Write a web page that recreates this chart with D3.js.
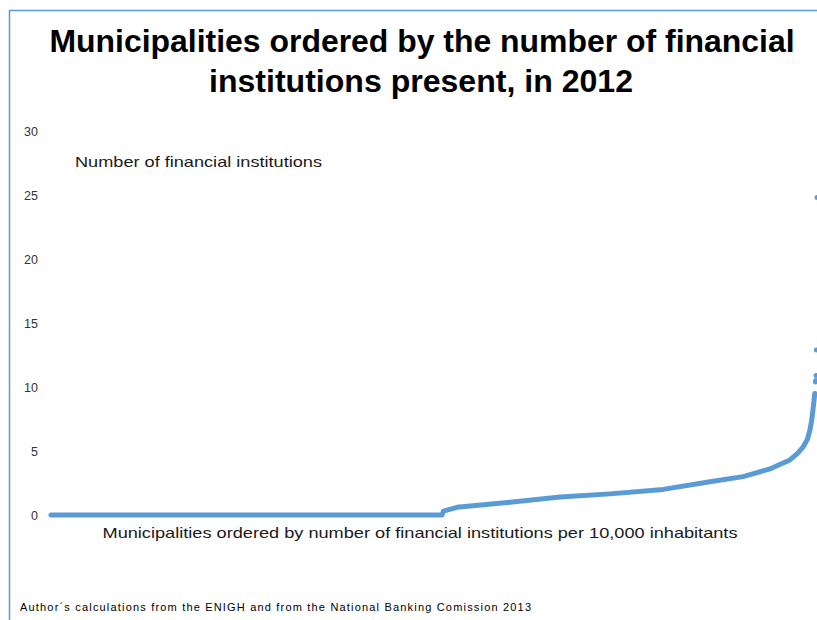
<!DOCTYPE html>
<html>
<head>
<meta charset="utf-8">
<script src="https://cdn.jsdelivr.net/npm/d3@7"></script>
<style>
  body { margin: 0; background: #fff; }
  text { font-family: "Liberation Sans", Arial, sans-serif; }
</style>
</head>
<body>
<div id="chart"></div>
<script>
// municipalities ranked by number of financial institutions
var ranks  = [1, 1254, 1258, 1302, 1472, 1632, 1792, 1962, 2112, 2218, 2304, 2368, 2392, 2410, 2424, 2432, 2438, 2442, 2448]
var values = [0, 0, 0.3, 0.6, 1.0, 1.4, 1.65, 2.0, 2.6, 3.0, 3.6, 4.3, 4.8, 5.3, 5.9, 6.6, 7.4, 8.2, 9.5]

// the few scattered points at the very top end
var topRanks  = [2450, 2451, 2452, 2453, 2455]
var topValues = [10.4, 10.5, 10.9, 12.9, 24.8]

var yTicks = [0, 5, 10, 15, 20, 25, 30]

var W = 817, H = 620
var blue = '#5b9bd5'

var svg = d3.select('#chart').append('svg')
  .attr('width', W)
  .attr('height', H)

// chart frame (only left and top edges show)
svg.append('path')
  .attr('d', 'M9.5,' + H + 'V10.5H' + W)
  .attr('fill', 'none')
  .attr('stroke', blue)
  .attr('stroke-width', 1.5)

// title
var title = svg.append('text')
  .attr('text-anchor', 'middle')
  .attr('font-weight', 'bold')
  .attr('font-size', 32)
  .attr('fill', '#000')
title.append('tspan').attr('x', 422).attr('y', 52)
  .attr('textLength', 745).attr('lengthAdjust', 'spacingAndGlyphs')
  .text('Municipalities ordered by the number of financial')
title.append('tspan').attr('x', 421).attr('y', 92)
  .attr('textLength', 424).attr('lengthAdjust', 'spacingAndGlyphs')
  .text('institutions present, in 2012')

var x = d3.scaleLinear().domain([1, 2455]).range([51, 817])
var y = d3.scaleLinear().domain([0, 30]).range([515, 131])

// y axis: labels only
var gy = svg.append('g')
  .attr('transform', 'translate(38,0)')
  .call(d3.axisLeft(y).tickValues(yTicks).tickSize(0).tickPadding(0))
gy.select('.domain').remove()
gy.selectAll('text')
  .attr('font-family', '"Liberation Sans", Arial, sans-serif')
  .attr('font-size', 12.5)
  .attr('fill', '#333')

svg.append('text')
  .attr('x', 75).attr('y', 167)
  .attr('font-size', 15)
  .attr('fill', '#1a1a1a')
  .attr('textLength', 247).attr('lengthAdjust', 'spacingAndGlyphs')
  .text('Number of financial institutions')

// the series
var pts = ranks.map(function(r, i){ return [r, values[i]] })
var line = d3.line()
  .x(function(d){ return x(d[0]) })
  .y(function(d){ return y(d[1]) })

svg.append('path')
  .datum(pts)
  .attr('d', line)
  .attr('fill', 'none')
  .attr('stroke', blue)
  .attr('stroke-width', 5)
  .attr('stroke-linecap', 'round')
  .attr('stroke-linejoin', 'round')

svg.selectAll('circle.top')
  .data(topRanks.map(function(r, i){ return [r, topValues[i]] }))
  .enter().append('circle')
  .attr('class', 'top')
  .attr('cx', function(d){ return x(d[0]) })
  .attr('cy', function(d){ return y(d[1]) })
  .attr('r', 2.5)
  .attr('fill', blue)

svg.append('text')
  .attr('x', 420).attr('y', 538)
  .attr('text-anchor', 'middle')
  .attr('font-size', 15)
  .attr('fill', '#1a1a1a')
  .attr('textLength', 635).attr('lengthAdjust', 'spacingAndGlyphs')
  .text('Municipalities ordered by number of financial institutions per 10,000 inhabitants')

svg.append('text')
  .attr('x', 20).attr('y', 611)
  .attr('font-size', 11)
  .attr('fill', '#000')
  .attr('textLength', 511).attr('lengthAdjust', 'spacing')
  .text('Author´s calculations from the ENIGH and from the National Banking Comission 2013')
</script>
</body>
</html>
